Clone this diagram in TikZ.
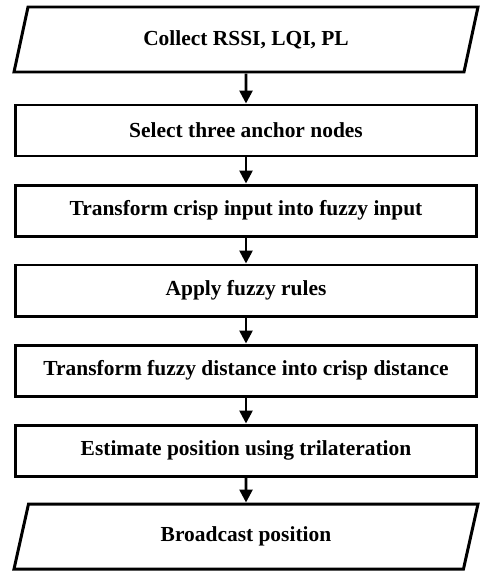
\documentclass[tikz,border=0pt]{standalone}
\usepackage{fontspec}
\setmainfont{Liberation Serif}
\usetikzlibrary{shapes.geometric,arrows.meta}

\tikzset{
  flowbox/.style={draw, line width=1.7pt, rectangle, minimum width=9.22cm,
    minimum height=1.02cm, font=\fontsize{12.2}{14}\selectfont\bfseries},
  iobox/.style={draw, line width=1.7pt, trapezium, trapezium left angle=65,
    trapezium right angle=115, trapezium stretches body, minimum width=9.28cm,
    minimum height=1.3cm, inner xsep=0pt, font=\fontsize{12.2}{14}\selectfont\bfseries},
  flowarrow/.style={line width=1.5pt, -{Triangle[width=0.26cm,length=0.26cm]}}
}

\begin{document}
\begin{tikzpicture}
        \useasboundingbox (0,0) rectangle (9.6,-11.48);

        \node[iobox]   (collect)   at (4.92,-0.79)  {Collect RSSI, LQI, PL};
        \node[flowbox] (select)    at (4.92,-2.61)  {Select three anchor nodes};
        \node[flowbox] (fuzzify)   at (4.92,-4.21)  {Transform crisp input into fuzzy input};
        \node[flowbox] (rules)     at (4.92,-5.81)  {Apply fuzzy rules};
        \node[flowbox] (defuzzify) at (4.92,-7.41)  {Transform fuzzy distance into crisp distance};
        \node[flowbox] (estimate)  at (4.92,-9.01)  {Estimate position using trilateration};
        \node[iobox]   (broadcast) at (4.92,-10.73) {Broadcast position};

        \draw[flowarrow] (collect) -- (select);
        \draw[flowarrow] (select) -- (fuzzify);
        \draw[flowarrow] (fuzzify) -- (rules);
        \draw[flowarrow] (rules) -- (defuzzify);
        \draw[flowarrow] (defuzzify) -- (estimate);
        \draw[flowarrow] (estimate) -- (broadcast);
      \end{tikzpicture}
\end{document}
